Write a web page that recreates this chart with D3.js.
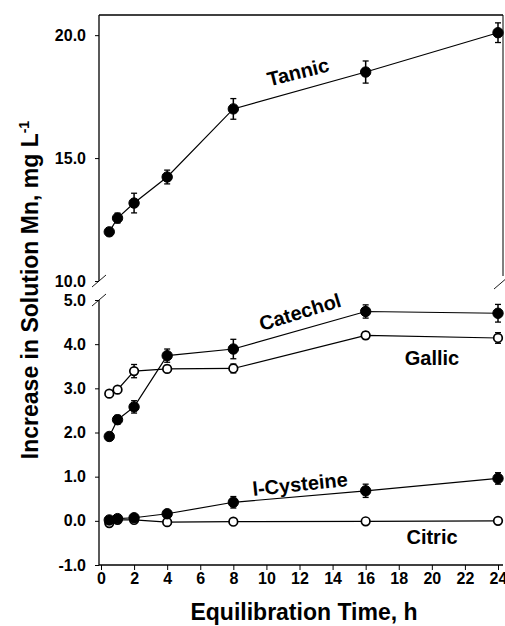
<!DOCTYPE html>
<html>
<head>
<meta charset="utf-8">
<script src="https://cdn.jsdelivr.net/npm/d3@7"></script>
<style>
  body { margin: 0; background: #fff; }
  text { font-family: "Liberation Sans", Arial, sans-serif; font-weight: bold; fill: #000; }
</style>
</head>
<body>
<svg id="chart" width="505" height="626"></svg>
<script>
var times = [0.5, 1, 2, 4, 8, 16, 24]

var tannic = [12.0, 12.56, 13.17, 14.23, 17.0, 18.5, 20.1]
var tannicErr = [0.15, 0.2, 0.4, 0.28, 0.42, 0.45, 0.4]

var catechol = [1.91, 2.29, 2.58, 3.74, 3.89, 4.74, 4.70]
var catecholErr = [0.06, 0.1, 0.14, 0.15, 0.22, 0.15, 0.2]

var gallic = [2.88, 2.97, 3.39, 3.44, 3.45, 4.2, 4.14]
var gallicErr = [0.05, 0.05, 0.15, 0.08, 0.1, 0.08, 0.12]

var cysteine = [0.02, 0.05, 0.07, 0.16, 0.42, 0.68, 0.96]
var cysteineErr = [0.04, 0.04, 0.05, 0.05, 0.13, 0.15, 0.13]

var citric = [-0.05, 0.02, 0.02, -0.03, -0.02, -0.01, 0.0]
var citricErr = [0.03, 0.03, 0.03, 0.02, 0.02, 0.03, 0.02]

var xTicks = d3.range(0, 25, 2)
var topTicks = [10, 15, 20]
var bottomTicks = [-1, 0, 1, 2, 3, 4, 5]

var svg = d3.select('#chart')
var left = 99, right = 503

var x = d3.scaleLinear().domain([0, 24]).range([left + 2, 498])
var yTop = d3.scaleLinear().domain([10, 20.82]).range([281, 15])
var yBot = d3.scaleLinear().domain([-1, 5]).range([565, 300])

var fmt = d3.format('.1f')

// top panel frame
svg.append('line').attr('x1', left).attr('x2', right).attr('y1', 15).attr('y2', 15)
  .attr('stroke', '#000').attr('stroke-width', 1.3)
svg.append('line').attr('x1', right).attr('x2', right).attr('y1', 15).attr('y2', 276)
  .attr('stroke', '#000').attr('stroke-width', 1)

// y axes
var gTop = svg.append('g').attr('transform', 'translate(' + left + ',0)')
  .call(d3.axisLeft(yTop).tickValues(topTicks).tickFormat(fmt).tickSize(4).tickPadding(9))
var gBot = svg.append('g').attr('transform', 'translate(' + left + ',0)')
  .call(d3.axisLeft(yBot).tickValues(bottomTicks).tickFormat(function(d) { return d === -1 ? '-1.0' : fmt(d) })
    .tickSize(4).tickPadding(9))
// x axis
var gX = svg.append('g').attr('transform', 'translate(0,' + 565 + ')')
  .call(d3.axisBottom(x).tickValues(xTicks).tickSize(5).tickPadding(3))

;[gTop, gBot, gX].forEach(function(g) {
  g.select('.domain').remove()
  g.selectAll('.tick line').attr('stroke', '#000').attr('stroke-width', 1)
  g.selectAll('text').style('font-size', '16px').style('font-family', '"Liberation Sans", Arial, sans-serif')
    .style('font-weight', 'bold')
})

svg.append('line').attr('x1', left).attr('x2', left).attr('y1', 15).attr('y2', 281)
  .attr('stroke', '#000').attr('stroke-width', 1.3)
svg.append('line').attr('x1', left).attr('x2', left).attr('y1', 300).attr('y2', 565)
  .attr('stroke', '#000').attr('stroke-width', 1.3)
svg.append('line').attr('x1', left).attr('x2', right).attr('y1', 565).attr('y2', 565)
  .attr('stroke', '#000').attr('stroke-width', 1.3)

// break marks
function slash(cx, cy) {
  svg.append('line').attr('x1', cx - 7).attr('y1', cy + 6).attr('x2', cx + 7).attr('y2', cy - 6)
    .attr('stroke', '#000').attr('stroke-width', 0.9)
}
slash(left, 281)
slash(left, 300)
slash(right - 2, 283)

function series(vals, errs, y, filled) {
  var pts = zip(times, vals)
  var line = d3.line().x(function(d) { return x(d[0]) }).y(function(d) { return y(d[1]) })
  svg.append('path').attr('d', line(pts)).attr('fill', 'none')
    .attr('stroke', '#000').attr('stroke-width', 1.2)
  var g = svg.append('g')
  pts.forEach(function(p, i) {
    var e = errs[i], px = x(p[0])
    g.append('line').attr('x1', px).attr('x2', px).attr('y1', y(p[1] - e)).attr('y2', y(p[1] + e))
      .attr('stroke', '#000').attr('stroke-width', 1.5)
    ;[p[1] - e, p[1] + e].forEach(function(v) {
      g.append('line').attr('x1', px - 3).attr('x2', px + 3).attr('y1', y(v)).attr('y2', y(v))
        .attr('stroke', '#000').attr('stroke-width', 1.3)
    })
    g.append('circle').attr('cx', px).attr('cy', y(p[1]))
      .attr('r', filled ? 5.2 : 4.3)
      .attr('fill', filled ? '#000' : '#fff')
      .attr('stroke', '#000').attr('stroke-width', filled ? 1 : 1.7)
  })
}

function zip(a, b) { return a.map(function(v, i) { return [v, b[i]] }) }

series(tannic, tannicErr, yTop, true)
series(citric, citricErr, yBot, false)
series(cysteine, cysteineErr, yBot, true)
series(gallic, gallicErr, yBot, false)
series(catechol, catecholErr, yBot, true)

function label(txt, cx, cy, rot, size) {
  svg.append('text').attr('transform', 'translate(' + cx + ',' + cy + ') rotate(' + rot + ')')
    .attr('text-anchor', 'middle').attr('dy', '0.35em')
    .style('font-size', size + 'px').text(txt)
}
label('Tannic', 298, 72, -14, 20)
label('Catechol', 300, 312, -17, 20)
label('Gallic', 432, 358, 0, 20)
label('l-Cysteine', 300, 484, -6, 20)
label('Citric', 432, 537, 0, 20)

// axis titles
svg.append('text').attr('x', 304).attr('y', 620).attr('text-anchor', 'middle')
  .style('font-size', '23px').text('Equilibration Time, h')

var yt = svg.append('text').attr('transform', 'translate(38,290) rotate(-90)')
  .attr('text-anchor', 'middle').style('font-size', '23px')
yt.append('tspan').text('Increase in Solution Mn, mg L')
yt.append('tspan').attr('dy', '-9').style('font-size', '14px').text('-1')
</script>
</body>
</html>
